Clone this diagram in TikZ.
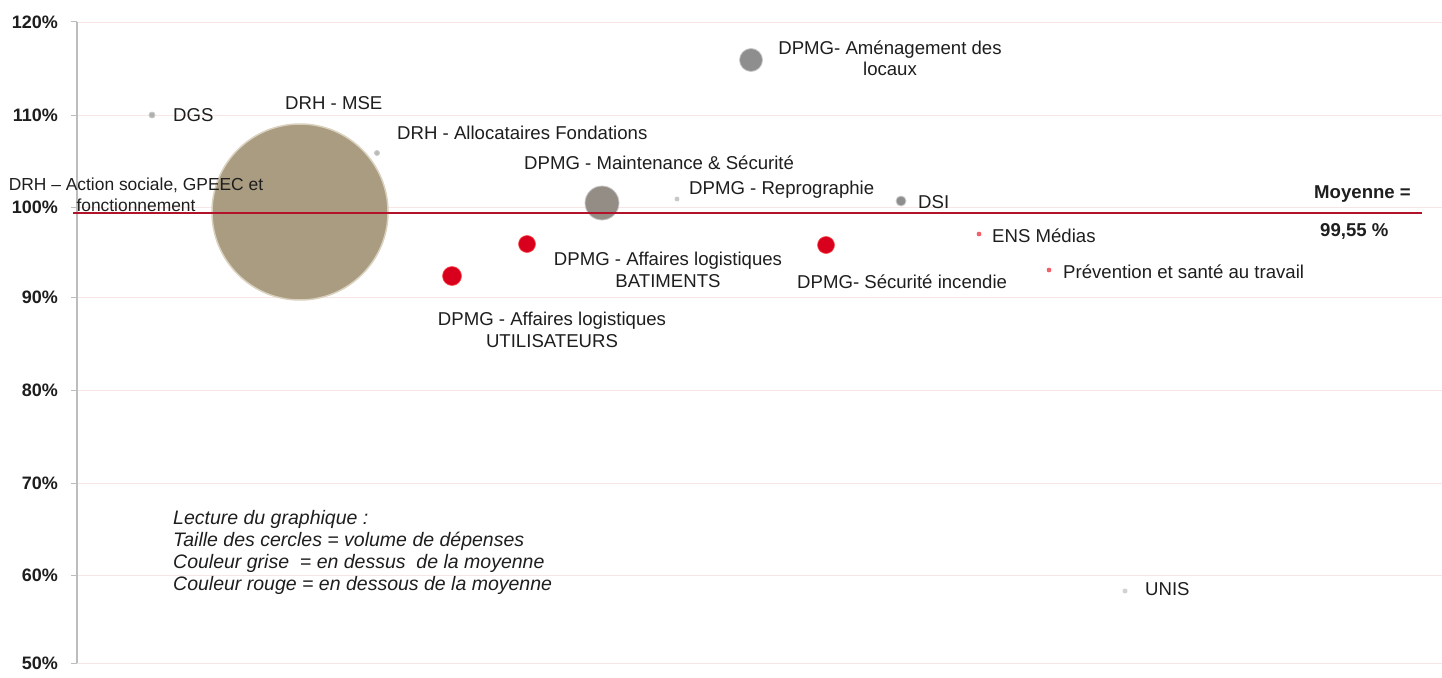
\documentclass[tikz,border=0pt]{standalone}
\usepackage{fontspec}
\setmainfont{Liberation Sans}
\definecolor{txt}{HTML}{1E1E1E}
\definecolor{tan}{HTML}{A99C80}
\definecolor{tanedge}{HTML}{D9D0BE}
\definecolor{grayb}{HTML}{8E8E8E}
\definecolor{grayedge}{HTML}{C8C8C8}
\definecolor{redb}{HTML}{D9001E}
\definecolor{meanred}{HTML}{B3122B}
\definecolor{gridc}{HTML}{F8E6E4}
\definecolor{axisc}{HTML}{BDBDBD}
\begin{document}
\begin{tikzpicture}[x=1pt,y=-1pt,
  lbl/.style={font=\fontsize{18.6}{21.5}\selectfont, text=txt, inner sep=0pt},
  boldlbl/.style={lbl, font=\fontsize{18.6}{21.5}\selectfont\bfseries},
  ticklbl/.style={font=\fontsize{18}{21}\selectfont\bfseries, text=txt, inner sep=0pt, anchor=east},
  legendtxt/.style={font=\fontsize{19.5}{22}\selectfont\itshape, text=txt, inner sep=0pt, anchor=west},
  bubble/.style={circle, inner sep=0pt, draw=grayedge, line width=0.8pt, fill=grayb},
  redbubble/.style={circle, inner sep=0pt, draw=red!70!white, line width=0.6pt, fill=redb},
  gridline/.style={draw=gridc, line width=0.8pt},
  axisline/.style={draw=axisc, line width=1.6pt},
  meanline/.style={draw=meanred, line width=2.8pt}
]
\useasboundingbox[fill=white] (0,0) rectangle (1442,677);
% grid, ticks, labels
\foreach \yy/\lab in {22/120,115/110,207/100,297/90,390/80,483/70,575/60,663/50}{
  \draw[gridline] (77,\yy) -- (1442,\yy);
  \draw[axisline, line width=1pt] (71,\yy) -- (77,\yy);
  \node[ticklbl] at (58,\yy) {\lab\%};
}
\coordinate (axtop) at (77,22);
\coordinate (axbot) at (77,663);
\draw[axisline] (axtop) -- (axbot);
% bubbles
\node[bubble, fill=tan, draw=tanedge, line width=1.5pt, minimum size=176pt] (mse) at (300,212) {};
\node[bubble, minimum size=6pt, fill=grayb!70] (dgs) at (152,115) {};
\node[bubble, minimum size=5pt, fill=grayb!60] (alloc) at (377,153) {};
\node[bubble, minimum size=23pt] (amen) at (751,60) {};
\node[bubble, minimum size=34pt, fill=grayb!90!brown] (maint) at (602,203) {};
\node[bubble, minimum size=4pt, fill=grayb!50] (repro) at (677,199) {};
\node[bubble, minimum size=10pt] (dsi) at (901,201) {};
\node[redbubble, minimum size=4pt, fill=redb!60] (ens) at (979,234) {};
\node[redbubble, minimum size=4pt, fill=redb!60] (prev) at (1049,270) {};
\node[bubble, minimum size=5pt, fill=grayb!40, draw=none] (unis) at (1125,591) {};
\node[redbubble, minimum size=19pt] (utl) at (452,276) {};
\node[redbubble, minimum size=17pt] (bat) at (527,244) {};
\node[redbubble, minimum size=17pt] (secinc) at (826,245) {};
% mean line
\coordinate (m1) at (73,213);
\coordinate (m2) at (1422,213);
\draw[meanline] (m1) -- (m2);
% labels
\node[lbl, anchor=west] (tdgs) at (173,115) {DGS};
\node[lbl, anchor=west] (tmse) at (285,103) {DRH - MSE};
\node[lbl, anchor=west] (talloc) at (397,133) {DRH - Allocataires Fondations};
\node[lbl, align=center] (tamen) at (890,58) {DPMG- Aménagement des\\locaux};
\node[lbl, anchor=west] (tmaint) at (524,163) {DPMG - Maintenance \& Sécurité};
\node[lbl, anchor=west] (trepro) at (689,190) {DPMG - Reprographie};
\node[lbl, anchor=west] (tdsi) at (918,202) {DSI};
\node[boldlbl, anchor=west] (tmoy) at (1314,194) {Moyenne =};
\node[boldlbl, anchor=west] (tval) at (1320,231) {99,55 \%};
\node[lbl, anchor=west] (tens) at (992,236) {ENS Médias};
\node[lbl, anchor=west] (tprev) at (1063,272) {Prévention et santé au travail};
\node[lbl, anchor=west] (tsec) at (797,282) {DPMG- Sécurité incendie};
\node[lbl, align=center] (tbat) at (668,270) {DPMG - Affaires logistiques\\BATIMENTS};
\node[lbl, align=center] (tutl) at (552,330) {DPMG - Affaires logistiques\\UTILISATEURS};
\node[lbl, align=center, font=\fontsize{17.4}{21}\selectfont] (tact) at (136,195) {DRH – Action sociale, GPEEC et\\fonctionnement};
\node[lbl, anchor=west] (tunis) at (1145,589) {UNIS};
% legend
\node[legendtxt] (lg1) at (173,519) {Lecture du graphique :};
\node[legendtxt] (lg2) at (173,541) {Taille des cercles = volume de dépenses};
\node[legendtxt] (lg3) at (173,563) {Couleur grise \ = en dessus \ de la moyenne};
\node[legendtxt] (lg4) at (173,585) {Couleur rouge = en dessous de la moyenne};
\end{tikzpicture}
\end{document}
